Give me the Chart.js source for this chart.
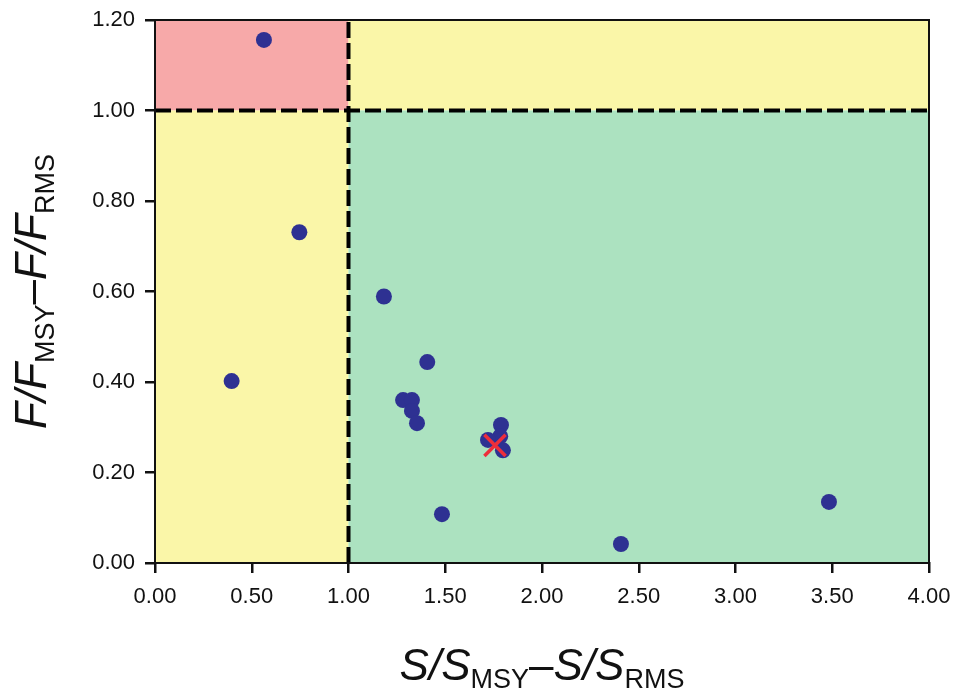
<!DOCTYPE html>
<html><head><meta charset="utf-8">
<script src="https://cdn.jsdelivr.net/npm/chart.js@4.4.1/dist/chart.umd.min.js"></script>
<style>html,body{margin:0;padding:0;background:#fff}#wrap{width:956px;height:694px}</style>
</head><body><div id="wrap"><canvas id="c" width="956" height="694"></canvas></div>
<script>
// Stock status points: S/S_MSY (x) vs F/F_MSY (y)
const stockX = [0.563, 0.746, 0.396, 1.183, 1.407, 1.282, 1.328, 1.328, 1.354, 1.483, 1.788, 1.784, 1.721, 1.798, 2.408, 3.483];
const stockY = [1.156, 0.731, 0.402, 0.589, 0.444, 0.360, 0.360, 0.336, 0.309, 0.108, 0.305, 0.280, 0.272, 0.249, 0.042, 0.135];
// Average marker (red cross)
const avgX = [1.757];
const avgY = [0.260];
// Reference lines
const refF = 1.0;
const refS = 1.0;
// Axis ranges / ticks
const xTicks = [0, 0.5, 1, 1.5, 2, 2.5, 3, 3.5, 4];
const yTicks = [0, 0.2, 0.4, 0.6, 0.8, 1.0, 1.2];

const FONT = '"Liberation Sans", Arial, sans-serif';

const zonesPlugin = {
  id: 'zones',
  beforeDatasetsDraw(chart) {
    const {ctx, scales: {x, y}} = chart;
    const X = v => x.getPixelForValue(v), Y = v => y.getPixelForValue(v);
    const xmin = xTicks[0], xmax = xTicks[xTicks.length-1];
    const ymin = yTicks[0], ymax = yTicks[yTicks.length-1];
    ctx.save();
    const rect = (x0,y0,x1,y1,c) => { ctx.fillStyle=c; ctx.fillRect(X(x0), Y(y1), X(x1)-X(x0), Y(y0)-Y(y1)); };
    rect(xmin, refF, refS, ymax, '#F7A9A9');
    rect(refS, refF, xmax, ymax, '#FAF6A8');
    rect(xmin, ymin, refS, refF, '#FAF6A8');
    rect(refS, ymin, xmax, refF, '#ACE2C0');
    ctx.restore();
  },
  afterDraw(chart) {
    const {ctx, chartArea: a} = chart;
    ctx.save();
    ctx.strokeStyle = '#111';
    ctx.lineWidth = 2;
    ctx.strokeRect(a.left, a.top, a.right - a.left, a.bottom - a.top);
    // titles
    ctx.fillStyle = '#111';
    ctx.textBaseline = 'alphabetic';
    const parts = (main1, sub1, dash, main2, sub2) => [
      {t: main1, f: 'italic 44px ' + FONT, dy: 0},
      {t: sub1, f: '27px ' + FONT, dy: 8},
      {t: dash, f: '44px ' + FONT, dy: 0},
      {t: main2, f: 'italic 44px ' + FONT, dy: 0},
      {t: sub2, f: '27px ' + FONT, dy: 8}
    ];
    const drawParts = (ps, cx, base) => {
      let w = 0;
      ps.forEach(p => { ctx.font = p.f; p.w = ctx.measureText(p.t).width; w += p.w; });
      let px = cx - w / 2;
      ps.forEach(p => { ctx.font = p.f; ctx.fillText(p.t, px, base + p.dy); px += p.w; });
    };
    ctx.textAlign = 'left';
    drawParts(parts('S/S', 'MSY', '\u2013', 'S/S', 'RMS'), (a.left + a.right) / 2, 680);
    ctx.translate(46, (a.top + a.bottom) / 2);
    ctx.rotate(-Math.PI / 2);
    drawParts(parts('F/F', 'MSY', '\u2013', 'F/F', 'RMS'), 0, 0);
    ctx.restore();
  }
};

const pts = stockX.map((v, i) => ({x: v, y: stockY[i]}));
const avg = avgX.map((v, i) => ({x: v, y: avgY[i]}));

new Chart(document.getElementById('c'), {
  type: 'scatter',
  data: {
    datasets: [
      {type: 'line', order: 3, data: [{x: refS, y: yTicks[0]}, {x: refS, y: yTicks[yTicks.length-1]}], borderColor: '#000', borderWidth: 4, borderDash: [16, 5], pointRadius: 0, fill: false},
      {type: 'line', order: 2, data: [{x: xTicks[0], y: refF}, {x: xTicks[xTicks.length-1], y: refF}], borderColor: '#000', borderWidth: 4, borderDash: [16, 5], pointRadius: 0, fill: false},
      {order: 1, data: pts, backgroundColor: '#2E3192', borderWidth: 0, pointRadius: 8, pointHoverRadius: 8},
      {order: 0, data: avg, pointStyle: 'crossRot', borderColor: '#EE2E3A', borderWidth: 3.5, pointRadius: 15, pointHoverRadius: 15}
    ]
  },
  options: {
    responsive: false,
    animation: false,
    layout: {padding: {top: 20, right: 27, left: 0, bottom: 0}},
    plugins: {legend: {display: false}, tooltip: {enabled: false}},
    scales: {
      x: {
        type: 'linear', min: xTicks[0], max: xTicks[xTicks.length-1],
        afterBuildTicks: s => { s.ticks = xTicks.map(v => ({value: v})); },
        afterFit: s => { s.height = 131; s.paddingLeft = 0; s.paddingRight = 0; },
        ticks: {color: '#111', font: {family: FONT, size: 22}, padding: 11, callback: v => v.toFixed(2), maxRotation: 0},
        grid: {drawOnChartArea: false, tickLength: 10, color: '#111', lineWidth: 2.5},
        border: {display: true, color: '#111', width: 2}
      },
      y: {
        type: 'linear', min: yTicks[0], max: yTicks[yTicks.length-1],
        afterBuildTicks: s => { s.ticks = yTicks.map(v => ({value: v})); },
        afterFit: s => { s.width = 155; s.paddingTop = 0; s.paddingBottom = 0; },
        ticks: {color: '#111', font: {family: FONT, size: 22}, padding: 10, callback: v => v.toFixed(2)},
        grid: {drawOnChartArea: false, tickLength: 10, color: '#111', lineWidth: 2.5},
        border: {display: true, color: '#111', width: 2}
      }
    }
  },
  plugins: [zonesPlugin]
});
</script></body></html>
